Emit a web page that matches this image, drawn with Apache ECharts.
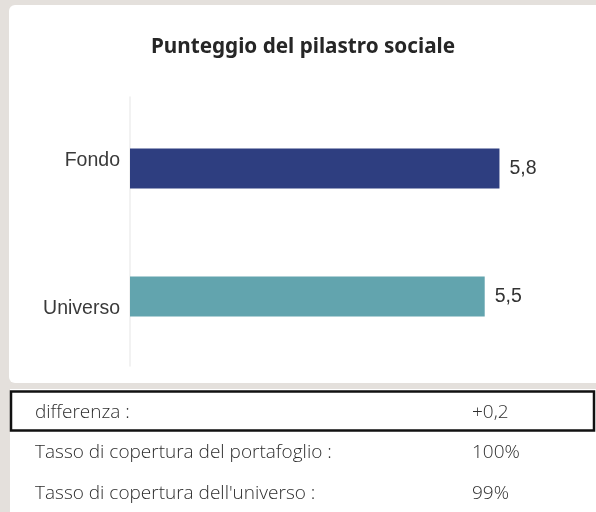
<!DOCTYPE html>
<html>
<head>
<meta charset="utf-8">
<script src="https://cdn.jsdelivr.net/npm/echarts@6/dist/echarts.min.js"></script>
<style>
html,body{margin:0;padding:0;background:#e4e0dc;}
#c{width:596px;height:512px;}
</style>
</head>
<body>
<div id="c"></div>
<script>
const title = 'Punteggio del pilastro sociale';
const categories = ['Fondo', 'Universo'];
const values = [5.76, 5.53];
const barColors = ['#2e3e80', '#62a4ae'];
const tableLabels = ['differenza :', 'Tasso di copertura del portafoglio :', "Tasso di copertura dell'universo :"];
const tableValues = ['+0,2', '100%', '99%'];

const fmt = v => v.toFixed(1).replace('.', ',');
const chart = echarts.init(document.getElementById('c'), null, {renderer: 'canvas'});

const tableFont = '300 19px "Open Sans", sans-serif';
const rowY = [413, 453, 494];

const graphics = [
  {type: 'rect', shape: {x: 9, y: 5, width: 600, height: 378, r: 6}, style: {fill: '#ffffff'}, z: -10, silent: true},
  {type: 'rect', shape: {x: 10, y: 389, width: 600, height: 130}, style: {fill: '#ffffff'}, z: -10, silent: true},
  {type: 'text', x: 303, y: 47, style: {text: title, font: 'bold 20.7px "Noto Sans", sans-serif', fill: '#262626', align: 'center', verticalAlign: 'middle'}},
  {type: 'rect', shape: {x: 11, y: 391.5, width: 583, height: 39}, style: {fill: 'none', stroke: '#111', lineWidth: 2.5}}
];
tableLabels.forEach((t, i) => {
  graphics.push({type: 'text', x: 35, y: rowY[i], style: {text: t, font: tableFont, fill: '#2e2e2e', align: 'left', verticalAlign: 'middle'}});
  graphics.push({type: 'text', x: 472, y: rowY[i], style: {text: tableValues[i], font: tableFont, fill: '#2e2e2e', align: 'left', verticalAlign: 'middle'}});
});

chart.setOption({
  animation: false,
  backgroundColor: 'transparent',
  graphic: graphics,
  grid: [
    {left: 130, top: 104.5, width: 449, height: 256, containLabel: false},
    {left: 130, top: 97, width: 449, height: 269, containLabel: false}
  ],
  xAxis: [
    {type: 'value', gridIndex: 0, min: 0, max: 7, show: false},
    {type: 'value', gridIndex: 1, min: 0, max: 1, show: false}
  ],
  yAxis: [
    {
      type: 'category', gridIndex: 0, inverse: true,
      data: categories,
      axisLine: {show: false}, axisTick: {show: false}, splitLine: {show: false},
      axisLabel: {
        margin: 10,
        formatter: v => (v === categories[0] ? '{up|' + v + '}' : '{down|' + v + '}'),
        rich: {
          up: {padding: [0, 0, 15, 0], fontSize: 19.5, color: '#3a3a3a', fontFamily: '"Liberation Sans", Arial, sans-serif'},
          down: {padding: [24, 0, 0, 0], fontSize: 19.5, color: '#3a3a3a', fontFamily: '"Liberation Sans", Arial, sans-serif'}
        }
      }
    },
    {
      type: 'value', gridIndex: 1, min: 0, max: 1,
      axisLine: {show: true, lineStyle: {color: '#eeeeee', width: 1.5}},
      axisTick: {show: false}, axisLabel: {show: false}, splitLine: {show: false}
    }
  ],
  series: [{
    type: 'bar', xAxisIndex: 0, yAxisIndex: 0,
    barWidth: 40,
    data: values.map((v, i) => ({value: v, itemStyle: {color: barColors[i]}})),
    label: {
      show: true, position: 'right', distance: 10,
      formatter: p => fmt(p.value),
      fontSize: 19.5, color: '#333', fontFamily: '"Liberation Sans", Arial, sans-serif'
    }
  }]
});
</script>
</body>
</html>
